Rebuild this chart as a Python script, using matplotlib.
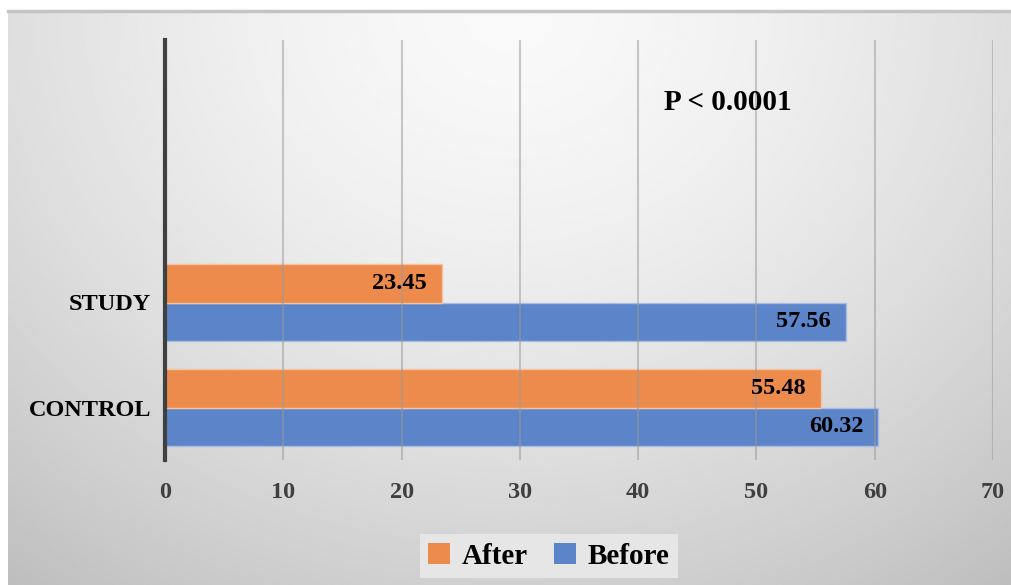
import numpy as np
import matplotlib
matplotlib.use('Agg')
from matplotlib import pyplot as plt
from matplotlib.patches import Patch

# data
groups = ['CONTROL', 'STUDY']
before = [60.32, 57.56]
after = [55.48, 23.45]
x_ticks = [0, 10, 20, 30, 40, 50, 60, 70]

orange = '#ed8b4c'
blue = '#5b84c9'
serif = 'Liberation Serif'

W, H = 1011, 585
fig = plt.figure(figsize=(W / 100, H / 100), dpi=100)
fig.patch.set_facecolor('white')

# grey radial background panel
bg = fig.add_axes([8 / W, 0, 1 - 8 / W, 1 - 11 / H])
yy, xx = np.mgrid[0:1:300j, 0:1:500j]
r = np.sqrt(((xx - 0.5) / 0.75) ** 2 + ((yy - 0.0) / 1.15) ** 2)
shade = 0.975 - 0.2 * np.clip(r, 0, 1.2) ** 1.6
bg.imshow(shade, cmap='gray', vmin=0, vmax=1, aspect='auto',
          extent=[0, 1, 1, 0], interpolation='bilinear')
bg.set_axis_off()
fig.add_artist(plt.Line2D([8 / W, 1], [1 - 10.5 / H, 1 - 10.5 / H],
                          color='#c4c4c4', lw=2.5, transform=fig.transFigure))

ax = fig.add_axes([165 / W, 125 / H, (993 - 165) / W, 420 / H])
ax.patch.set_alpha(0)

pos = np.arange(len(groups))
h = 0.37
ax.barh(pos - h / 2, before, height=h, color=blue, edgecolor='#a9bde3',
        lw=1, zorder=2)
ax.barh(pos + h / 2, after, height=h, color=orange, edgecolor='#f6c3a2',
        lw=1, zorder=2)

for i in range(len(groups)):
    for v, yc in ((before[i], pos[i] - h / 2), (after[i], pos[i] + h / 2)):
        ax.annotate(f'{v:.2f}', (v, yc), xytext=(-11, 0),
                    textcoords='offset points', ha='right', va='center',
                    fontsize=17.5, fontweight='bold', family=serif,
                    color='black', zorder=4)

ax.set_xlim(0, 70)
ax.set_ylim(-0.5, 3.5)
ax.set_xticks(x_ticks)
ax.set_xticklabels([str(t) for t in x_ticks], fontsize=17.5, fontweight='bold',
                   family=serif, color='#404040')
ax.set_yticks(pos)
ax.set_yticklabels(groups, fontsize=17.5, fontweight='bold', family=serif,
                   color='black')
ax.tick_params(axis='both', length=0)
ax.tick_params(axis='x', pad=16)
ax.tick_params(axis='y', pad=10)

for t in x_ticks[1:]:
    ax.axvline(t, color='#999999', lw=1.5, alpha=0.5, zorder=3)

for s in ('top', 'right', 'bottom'):
    ax.spines[s].set_visible(False)
ax.spines['left'].set_color('#404040')
ax.spines['left'].set_linewidth(3)
ax.spines['left'].set_zorder(5)

ax.text(664 / W, 1 - 103 / H, 'P < 0.0001', transform=fig.transFigure,
        ha='left', va='center', fontsize=21, fontweight='bold', family=serif)

handles = [Patch(facecolor=orange, label='After'),
           Patch(facecolor=blue, label='Before')]
leg = fig.legend(handles=handles, loc='center', bbox_to_anchor=(549 / W, 1 - 556 / H),
                 ncol=2, frameon=True, fancybox=False, handlelength=0.75,
                 handleheight=0.75, handletextpad=0.4, columnspacing=0.9,
                 borderpad=0.3,
                 prop={'family': serif, 'weight': 'bold', 'size': 21})
leg.get_frame().set_facecolor('#e6e6e6')
leg.get_frame().set_edgecolor('none')
leg.get_frame().set_alpha(1)

fig.savefig('out.png', dpi=100)
